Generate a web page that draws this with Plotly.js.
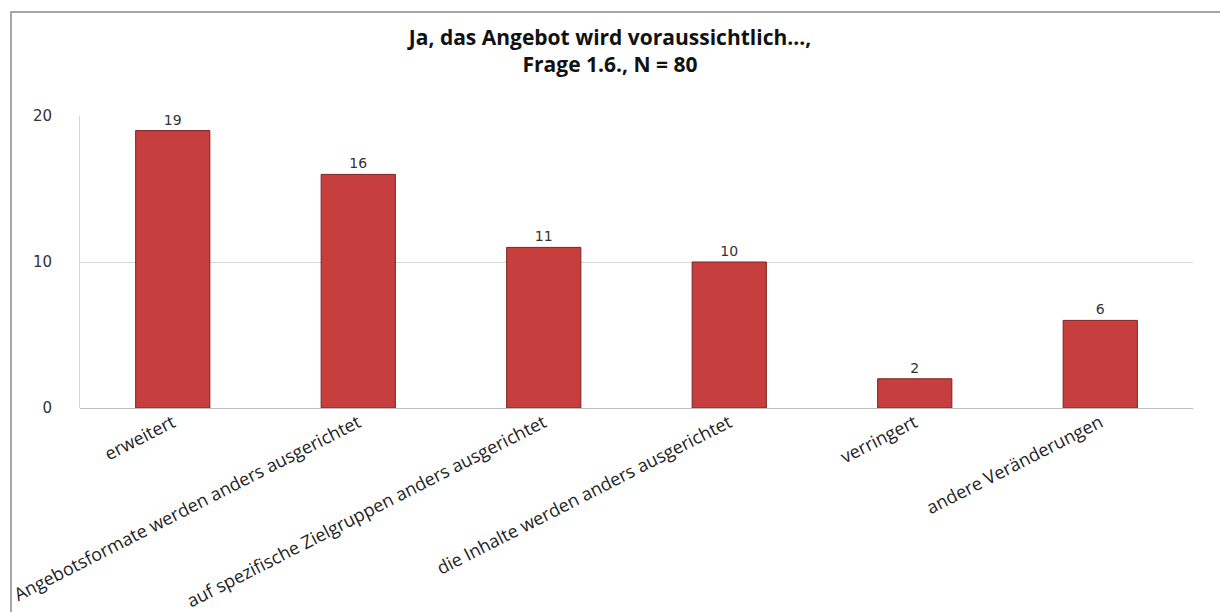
<!DOCTYPE html>
<html>
<head>
<meta charset="utf-8">
<script src="https://cdn.plot.ly/plotly-3.0.1.min.js"></script>
<style>
  html, body { margin: 0; padding: 0; background: #fff; }
  #wrap { position: relative; width: 1220px; height: 612px; overflow: hidden; }
  #chart { width: 1220px; height: 612px; }
  #frame { position: absolute; left: 10px; top: 11px; width: 1400px; height: 800px;
           border: 2px solid #a6a6a6; pointer-events: none; box-sizing: border-box; }
</style>
</head>
<body>
<div id="wrap">
  <div id="chart"></div>
  <div id="frame"></div>
</div>
<script>
const categories = [
  "erweitert",
  "Angebotsformate werden anders ausgerichtet",
  "auf spezifische Zielgruppen anders ausgerichtet",
  "die Inhalte werden anders ausgerichtet",
  "verringert",
  "andere Veränderungen"
];
const values = [19, 16, 11, 10, 2, 6];
const yTicks = [0, 10, 20];
const titleText = "Ja, das Angebot wird voraussichtlich...,<br>Frage 1.6., N = 80";

const trace = {
  type: "bar",
  x: categories,
  y: values,
  text: values.map(String),
  textposition: "outside",
  textfont: { family: "DejaVu Sans", size: 14, color: "#333" },
  cliponaxis: false,
  marker: { color: "#c63e3e", line: { color: "#7d2222", width: 1 } },
  hoverinfo: "x+y"
};

const layout = {
  width: 1220,
  height: 612,
  margin: { l: 80, r: 27, t: 116, b: 204 },
  paper_bgcolor: "#ffffff",
  plot_bgcolor: "#ffffff",
  bargap: 0.6,
  showlegend: false,
  title: {
    text: titleText,
    font: { family: "Open Sans", size: 21, color: "#111", weight: "bold" },
    x: 0.5, xanchor: "center", y: 0.927, yanchor: "top"
  },
  xaxis: {
    type: "category",
    tickangle: -27,
    tickfont: { family: "Open Sans", size: 18, color: "#222" },
    showgrid: false,
    showline: false,
    ticks: "",
    automargin: false
  },
  yaxis: {
    range: [0, 20],
    tickvals: yTicks,
    ticktext: yTicks.map(String),
    tickfont: { family: "DejaVu Sans", size: 15, color: "#333" },
    showgrid: true,
    gridcolor: "#d6d6d6",
    gridwidth: 1,
    zeroline: true,
    zerolinecolor: "#bfbfbf",
    zerolinewidth: 1,
    showline: true,
    linecolor: "#d6d6d6",
    linewidth: 1,
    ticks: "",
    ticklabelstandoff: 24,
    automargin: false
  }
};

Plotly.newPlot("chart", [trace], layout, { displayModeBar: false, staticPlot: true });
</script>
</body>
</html>
